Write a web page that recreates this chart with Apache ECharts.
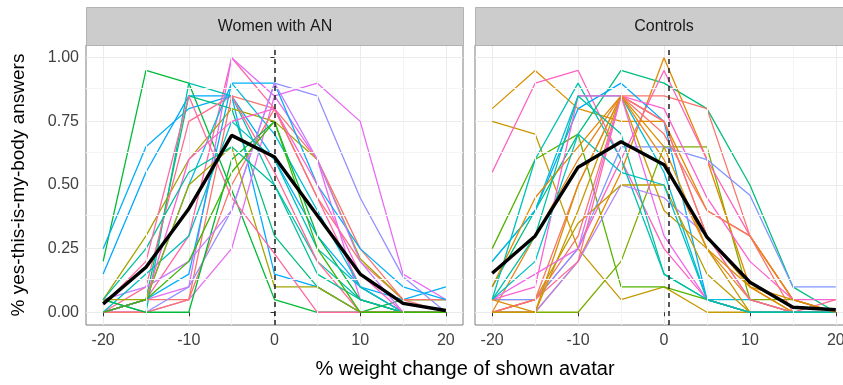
<!DOCTYPE html>
<html>
<head>
<meta charset="utf-8">
<script src="https://cdn.jsdelivr.net/npm/echarts@6.0.0/dist/echarts.min.js"></script>
<style>
  html, body { margin: 0; padding: 0; background: #fff; }
  #chart { width: 843px; height: 385px; }
</style>
</head>
<body>
<div id="chart"></div>
<script>
// Avatar weight change vs. "yes this is my body" answers, two facets

const xValues = [-20, -15, -10, -5, 0, 5, 10, 15, 20];
const xTicks = [-20, -10, 0, 10, 20];
const yTicks = [0, 0.25, 0.5, 0.75, 1];
const panelNames = ['Women with AN', 'Controls'];

// group means (black line)
const anMean = [0.033, 0.177, 0.407, 0.695, 0.61, 0.38, 0.15, 0.035, 0.007];
const ctrlMean = [0.153, 0.30, 0.57, 0.67, 0.58, 0.295, 0.118, 0.02, 0.01];

// reference line position per panel
const refLines = [0, 0.5];

// single participants, women with AN
const anLines = [
    [0.20, 0.95, 0.90, 0.48, 0.05, 0.00, 0.00, 0.05, 0.05],
    [0.25, 0.65, 0.80, 0.85, 0.60, 0.30, 0.10, 0.05, 0.10],
    [0.15, 0.55, 0.85, 0.85, 0.15, 0.10, 0.00, 0.00, 0.00],
    [0.00, 0.05, 0.30, 1.00, 0.80, 0.45, 0.10, 0.00, 0.00],
    [0.00, 0.05, 0.10, 1.00, 0.85, 0.60, 0.05, 0.00, 0.00],
    [0.05, 0.00, 0.90, 0.85, 0.50, 0.20, 0.05, 0.00, 0.00],
    [0.00, 0.05, 0.85, 0.80, 0.30, 0.10, 0.00, 0.00, 0.00],
    [0.00, 0.05, 0.05, 0.85, 0.80, 0.45, 0.20, 0.05, 0.00],
    [0.05, 0.30, 0.60, 0.80, 0.75, 0.60, 0.21, 0.05, 0.05],
    [0.00, 0.00, 0.10, 0.40, 0.90, 0.85, 0.45, 0.14, 0.00],
    [0.00, 0.00, 0.05, 0.25, 0.85, 0.90, 0.75, 0.15, 0.05],
    [0.00, 0.10, 0.75, 0.85, 0.55, 0.20, 0.00, 0.00, 0.00],
    [0.00, 0.05, 0.50, 0.90, 0.70, 0.40, 0.10, 0.00, 0.00],
    [0.00, 0.00, 0.05, 0.50, 0.80, 0.60, 0.25, 0.05, 0.05],
    [0.05, 0.00, 0.00, 0.60, 0.75, 0.30, 0.05, 0.00, 0.00],
    [0.00, 0.05, 0.15, 0.90, 0.90, 0.50, 0.25, 0.10, 0.05],
    [0.05, 0.10, 0.20, 0.40, 0.90, 0.60, 0.20, 0.00, 0.00],
    [0.00, 0.15, 0.30, 0.75, 0.60, 0.25, 0.10, 0.00, 0.00],
    [0.00, 0.05, 0.60, 0.75, 0.80, 0.50, 0.15, 0.00, 0.00],
    [0.05, 0.05, 0.50, 0.65, 0.10, 0.10, 0.00, 0.00, 0.00],
    [0.05, 0.25, 0.55, 0.65, 0.50, 0.15, 0.05, 0.00, 0.00],
    [0.03, 0.20, 0.85, 0.45, 0.23, 0.00, 0.00, 0.00, 0.00],
    [0.00, 0.05, 0.20, 0.55, 0.75, 0.25, 0.00, 0.00, 0.00]
];
const anColors = ['#00BA38', '#00B0F6', '#00A9FF', '#FF67A4', '#E76BF3', '#00C0AF', '#00BF7D', '#F8766D',
    '#A3A500', '#9590FF', '#E76BF3', '#FF6C91', '#00BCD8', '#F8766D', '#00BA38', '#00B0F6', '#C77CFF',
    '#00BFC4', '#FD61D1', '#A3A500', '#00C19A', '#FF689F', '#39B600'];

// single participants, controls
const ctrlLines = [
    [0.80, 0.95, 0.80, 0.75, 0.75, 0.30, 0.10, 0.00, 0.00],
    [0.75, 0.70, 0.25, 0.05, 0.10, 0.00, 0.00, 0.00, 0.00],
    [0.55, 0.90, 0.95, 0.60, 0.25, 0.05, 0.00, 0.00, 0.00],
    [0.00, 0.00, 0.00, 0.20, 0.65, 0.65, 0.05, 0.05, 0.00],
    [0.25, 0.60, 0.70, 0.10, 0.10, 0.05, 0.00, 0.00, 0.00],
    [0.10, 0.40, 0.70, 0.95, 0.90, 0.80, 0.50, 0.10, 0.00],
    [0.00, 0.00, 0.20, 0.55, 1.00, 0.60, 0.10, 0.00, 0.00],
    [0.00, 0.05, 0.25, 0.60, 0.95, 0.60, 0.30, 0.05, 0.00],
    [0.05, 0.05, 0.50, 0.85, 0.85, 0.80, 0.30, 0.05, 0.00],
    [0.20, 0.40, 0.80, 0.90, 0.75, 0.05, 0.00, 0.00, 0.00],
    [0.05, 0.60, 0.90, 0.60, 0.15, 0.05, 0.00, 0.00, 0.00],
    [0.20, 0.40, 0.85, 0.85, 0.55, 0.05, 0.05, 0.00, 0.00],
    [0.05, 0.05, 0.25, 0.65, 0.65, 0.60, 0.46, 0.10, 0.10],
    [0.00, 0.00, 0.20, 0.50, 0.45, 0.30, 0.05, 0.00, 0.00],
    [0.00, 0.05, 0.35, 0.50, 0.50, 0.15, 0.00, 0.00, 0.00],
    [0.10, 0.45, 0.65, 0.85, 0.75, 0.40, 0.30, 0.05, 0.00],
    [0.00, 0.30, 0.60, 0.85, 0.60, 0.25, 0.05, 0.00, 0.00],
    [0.05, 0.10, 0.85, 0.85, 0.80, 0.45, 0.20, 0.05, 0.05],
    [0.00, 0.05, 0.20, 0.85, 0.75, 0.30, 0.05, 0.00, 0.05],
    [0.00, 0.05, 0.30, 0.85, 0.70, 0.40, 0.30, 0.00, 0.00],
    [0.00, 0.00, 0.40, 0.85, 0.40, 0.25, 0.00, 0.00, 0.00],
    [0.05, 0.15, 0.25, 0.85, 0.30, 0.05, 0.00, 0.00, 0.00],
    [0.05, 0.20, 0.70, 0.55, 0.50, 0.05, 0.00, 0.00, 0.00],
    [0.05, 0.30, 0.85, 0.70, 0.15, 0.05, 0.00, 0.00, 0.00],
    [0.05, 0.00, 0.50, 0.85, 0.65, 0.25, 0.10, 0.05, 0.00]
];
const ctrlColors = ['#D89000', '#C49A00', '#FF61C3', '#7CAE00', '#53B400', '#00BF7D', '#E38900', '#FF62BC',
    '#F8766D', '#00A9FF', '#00C0B8', '#00BCD8', '#7F96FF', '#B385FF', '#BB9D00', '#E58700', '#E7861B',
    '#FD61D1', '#FF6C91', '#F8766D', '#C99800', '#EF67EB', '#00BFC4', '#00C1A3', '#DB8E00'];

const FONT = 'Liberation Sans, Arial, sans-serif';
// the right panel runs past the image edge in the original
const grids = [
    { left: 86, top: 45, width: 377, height: 280 },
    { left: 475, top: 45, width: 378, height: 280 }
];

const chart = echarts.init(document.getElementById('chart'));

function makeX(i) {
    return {
        type: 'value', gridIndex: i, min: -22, max: 22,
        axisLine: { show: false },
        axisTick: { show: true, length: 4, customValues: xTicks, lineStyle: { color: '#333', width: 1 } },
        axisLabel: { customValues: xTicks, color: '#404040', fontSize: 16, fontFamily: FONT, margin: 8 },
        splitLine: { show: true, lineStyle: { color: '#EBEBEB', width: 1 } }
    };
}
function makeY(i) {
    return {
        type: 'value', gridIndex: i, min: -0.05, max: 1.05,
        axisLine: { show: false },
        axisTick: { show: i === 0, length: 4, customValues: yTicks, lineStyle: { color: '#333', width: 1 } },
        axisLabel: { show: i === 0, customValues: yTicks, color: '#404040', fontSize: 16, fontFamily: FONT,
            margin: 7, formatter: v => v.toFixed(2) },
        splitLine: { show: true, lineStyle: { color: '#EBEBEB', width: 1 } },
        name: i === 0 ? '% yes-this-is-my-body answers' : '',
        nameLocation: 'middle', nameGap: 58,
        nameTextStyle: { color: '#000', fontSize: 19, fontFamily: FONT }
    };
}

function lineSeries(vals, color, i, width, z) {
    return {
        type: 'line', xAxisIndex: i, yAxisIndex: i,
        data: xValues.map((x, k) => [x, vals[k]]),
        symbol: 'none', silent: true, z: z,
        lineStyle: { color: color, width: width },
        itemStyle: { color: color }
    };
}

const series = [];
[anLines, ctrlLines].forEach((lines, i) => {
    const cols = i === 0 ? anColors : ctrlColors;
    // minor grid
    series.push({
        type: 'line', xAxisIndex: i, yAxisIndex: i, data: [], z: 1, silent: true,
        markLine: {
            silent: true, symbol: 'none', animation: false, label: { show: false },
            lineStyle: { color: '#F4F4F4', width: 1, type: 'solid' },
            data: [-15, -5, 5, 15].map(v => ({ xAxis: v }))
                .concat([0.125, 0.375, 0.625, 0.875].map(v => ({ yAxis: v })))
        }
    });
    lines.forEach((vals, k) => series.push(lineSeries(vals, cols[k % cols.length], i, 1.3, 2)));
    // dashed reference line
    series.push({
        type: 'line', xAxisIndex: i, yAxisIndex: i, data: [], z: 4, silent: true,
        markLine: {
            silent: true, symbol: 'none', animation: false, label: { show: false },
            lineStyle: { color: '#222', width: 1.5, type: [5, 4] },
            data: [{ xAxis: refLines[i] }]
        }
    });
    series.push(lineSeries(i === 0 ? anMean : ctrlMean, '#000', i, 3.4, 5));
});

const graphics = [];
grids.forEach((g, i) => {
    graphics.push({
        type: 'rect', silent: true, z: 10,
        shape: { x: g.left + 0.5, y: 7.5, width: g.width, height: 38 },
        style: { fill: '#CCCCCC', stroke: '#B3B3B3', lineWidth: 1 }
    });
    graphics.push({
        type: 'text', silent: true, z: 11,
        x: i === 0 ? 275 : 664, y: 27,
        style: { text: panelNames[i], fill: '#1A1A1A', font: '16px ' + FONT, align: 'center', verticalAlign: 'middle' }
    });
});
graphics.push({
    type: 'text', silent: true, z: 11, x: 465, y: 369,
    style: { text: '% weight change of shown avatar', fill: '#000', font: '20px ' + FONT, align: 'center', verticalAlign: 'middle' }
});

chart.setOption({
    animation: false,
    backgroundColor: '#fff',
    grid: grids.map(g => Object.assign({
        show: true, borderColor: '#7F7F7F', borderWidth: 1, backgroundColor: 'transparent',
        outerBoundsMode: 'none', containLabel: false
    }, g)),
    xAxis: [makeX(0), makeX(1)],
    yAxis: [makeY(0), makeY(1)],
    series: series,
    graphic: graphics
});
</script>
</body>
</html>
